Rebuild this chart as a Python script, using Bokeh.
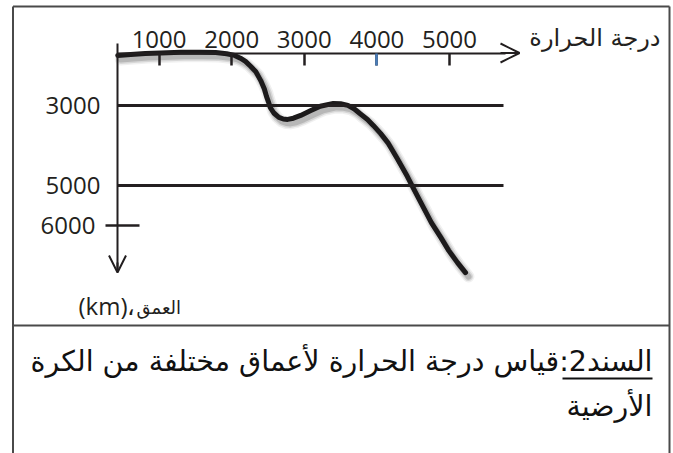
from bokeh.plotting import figure
from bokeh.models import (Range1d, LinearAxis, FixedTicker, Arrow, OpenHead, Label,
                          BoxAnnotation, ColumnDataSource)
from bokeh.transform import dodge
from bokeh.embed import file_html
from bokeh.resources import INLINE

# ---------------- data ----------------
temperature = [430, 610, 810, 1020, 1300, 1570, 1780, 1930, 2040, 2120,
               2190, 2260, 2330, 2400, 2450, 2480, 2510, 2530, 2580, 2650,
               2710, 2770, 2850, 2950, 3090, 3220, 3400, 3500, 3600, 3690,
               3770, 3870, 3950, 4050, 4150, 4280, 4420, 4530, 4640, 4750,
               4880, 4990, 5110, 5220]
depth = [1760, 1740, 1710, 1700, 1680, 1680, 1690, 1720, 1760, 1830,
         1910, 2030, 2160, 2390, 2600, 2790, 2940, 3060, 3200, 3310,
         3350, 3360, 3330, 3260, 3140, 3030, 2960, 2970, 3010, 3100,
         3220, 3360, 3510, 3710, 3940, 4340, 4790, 5180, 5560, 5940,
         6310, 6640, 6940, 7190]

temp_ticks = [1000, 2000, 3000, 4000, 5000]
temp_tick_labels = ["1000", "2000", "3000", "4000", "5000"]
highlight_tick = [4000]
boundary_depths = [3000, 5000]
boundary_labels = ["3000", "5000"]
depth_ticks = [6000]
depth_tick_labels = ["6000"]

x_title = "درجة الحرارة"
y_unit = "(km)،"
y_title = "العمق"
caption_1 = "السند2:قياس درجة الحرارة لأعماق مختلفة من الكرة"
caption_2 = "الأرضية"

# ---------------- layout ----------------
W, H = 673, 453
PX_T0, PX_PER_T = 86.0, 0.0726     # temperature scale in page pixels
PX_D0, PX_PER_D = -15.5, 0.040     # depth scale in page pixels


def t_at(px):
    return (px - PX_T0) / PX_PER_T


def d_at(py):
    return (py - PX_D0) / PX_PER_D


INK = "#231f20"
FRAME = "#4a4a4a"

p = figure(width=W, height=H,
           x_range=Range1d(t_at(0), t_at(W)),
           y_range=Range1d(d_at(H), d_at(0)),
           output_backend="svg", toolbar_location=None,
           x_axis_location=None, y_axis_location=None,
           min_border=0, outline_line_color=None,
           background_fill_color="white", border_fill_color="white")
p.xgrid.visible = False
p.ygrid.visible = False


def rule(x0, y0, x1, y1, width=2, color=FRAME):
    p.add_layout(Arrow(x_start=t_at(x0), y_start=d_at(y0), x_end=t_at(x1), y_end=d_at(y1),
                       end=None, line_color=color, line_width=width))


# ---------- frame of the document ----------
rule(12.5, 6, 12.5, 470)
rule(669, 6, 669, 470)
rule(12.5, 6, 669, 6)
rule(12.5, 325, 669, 325)

# ---------- temperature axis (top) ----------
top_axis = LinearAxis(ticker=FixedTicker(ticks=temp_ticks, minor_ticks=[]),
                      fixed_location=d_at(52.5), bounds=(t_at(117), t_at(505)))
top_axis.major_label_overrides = {t: s for t, s in zip(temp_ticks, temp_tick_labels)}
top_axis.axis_line_color = INK
top_axis.axis_line_width = 2
top_axis.major_tick_in = 12
top_axis.major_tick_out = 0
top_axis.major_tick_line_width = 2.5
top_axis.major_tick_line_color = INK
top_axis.minor_tick_line_color = None
top_axis.major_label_standoff = 5
top_axis.major_label_text_font = "Open Sans"
top_axis.major_label_text_font_size = "24px"
top_axis.major_label_text_color = INK
p.add_layout(top_axis, "above")

blue_axis = LinearAxis(ticker=FixedTicker(ticks=highlight_tick, minor_ticks=[]),
                       fixed_location=d_at(52.5))
blue_axis.axis_line_color = None
blue_axis.major_tick_in = 12
blue_axis.major_tick_out = 0
blue_axis.major_tick_line_width = 2.5
blue_axis.major_tick_line_color = "#4a7ebb"
blue_axis.minor_tick_line_color = None
blue_axis.major_label_text_alpha = 0
p.add_layout(blue_axis, "above")

p.add_layout(Arrow(x_start=t_at(500), y_start=d_at(52.5), x_end=t_at(519), y_end=d_at(52.5),
                   line_color=INK, line_width=2,
                   end=OpenHead(size=19, line_color=INK, line_width=2)))

p.add_layout(Label(x=t_at(660), y=d_at(37), text=x_title, text_align="right",
                   text_baseline="alphabetic", text_font="DejaVu Sans",
                   text_font_size="24px", text_color=INK))

# ---------- depth axis (left) ----------
depth_axis = LinearAxis(ticker=FixedTicker(ticks=boundary_depths, minor_ticks=[]),
                        fixed_location=t_at(117), bounds=(d_at(43), d_at(270)))
depth_axis.major_label_overrides = {d: s for d, s in zip(boundary_depths, boundary_labels)}
depth_axis.axis_line_color = INK
depth_axis.axis_line_width = 2
depth_axis.major_tick_in = 386
depth_axis.major_tick_out = 0
depth_axis.major_tick_line_width = 3
depth_axis.major_tick_line_color = INK
depth_axis.minor_tick_line_color = None
depth_axis.major_label_standoff = 17
depth_axis.major_label_text_font = "Open Sans"
depth_axis.major_label_text_font_size = "24px"
depth_axis.major_label_text_color = INK
p.add_layout(depth_axis, "left")

tick_axis = LinearAxis(ticker=FixedTicker(ticks=depth_ticks, minor_ticks=[]),
                       fixed_location=t_at(117))
tick_axis.major_label_overrides = {d: s for d, s in zip(depth_ticks, depth_tick_labels)}
tick_axis.axis_line_color = None
tick_axis.major_tick_in = 22
tick_axis.major_tick_out = 12
tick_axis.major_tick_line_width = 2.5
tick_axis.major_tick_line_color = INK
tick_axis.minor_tick_line_color = None
tick_axis.major_label_standoff = 10
tick_axis.major_label_text_font = "Open Sans"
tick_axis.major_label_text_font_size = "24px"
tick_axis.major_label_text_color = INK
p.add_layout(tick_axis, "left")

p.add_layout(Arrow(x_start=t_at(117), y_start=d_at(262), x_end=t_at(117), y_end=d_at(272),
                   line_color=INK, line_width=2,
                   end=OpenHead(size=17, line_color=INK, line_width=2)))

p.add_layout(Label(x=t_at(78), y=d_at(305), text=y_unit, text_align="left",
                   text_baseline="alphabetic", text_font="Open Sans",
                   text_font_size="24px", text_color=INK))
p.add_layout(Label(x=t_at(136), y=d_at(307), text=y_title, text_align="left",
                   text_baseline="alphabetic", text_font="DejaVu Sans",
                   text_font_size="18px", text_color=INK))

# ---------- the temperature curve ----------
src = ColumnDataSource(dict(t=temperature, d=depth))
for w, a in ((12, 0.06), (9, 0.10), (6, 0.15)):
    p.line(x=dodge("t", 3 / PX_PER_T), y=dodge("d", 4 / PX_PER_D), source=src,
           line_width=w, line_color="black", line_alpha=a,
           line_join="round", line_cap="round")
p.line(x="t", y="d", source=src, line_width=5, line_color="#1c1a1b",
       line_join="round", line_cap="round")

# ---------- caption ----------
p.add_layout(Label(x=t_at(652), y=d_at(361), text=caption_1, text_align="right",
                   text_baseline="alphabetic", text_font="DejaVu Sans",
                   text_font_size="28.5px", text_color="#111111"))
p.add_layout(Label(x=t_at(652), y=d_at(406), text=caption_2, text_align="right",
                   text_baseline="alphabetic", text_font="DejaVu Sans",
                   text_font_size="28.5px", text_color="#111111"))
p.add_layout(BoxAnnotation(left=t_at(562), right=t_at(652), top=d_at(377), bottom=d_at(379),
                           fill_color="#111111", fill_alpha=1, line_color=None))

open("out.html", "w").write(file_html(p, INLINE))
